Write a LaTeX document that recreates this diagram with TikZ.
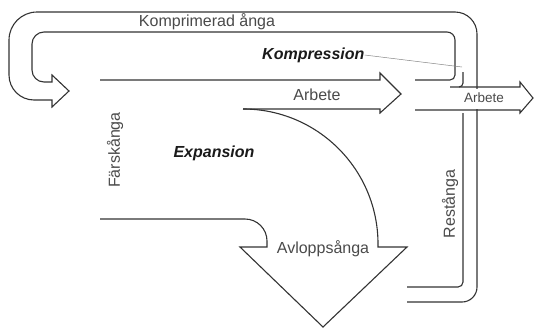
\documentclass[tikz,border=0pt]{standalone}
\usepackage{fontspec}
\setmainfont{Liberation Sans}
\definecolor{ln}{HTML}{333333}
\definecolor{tx}{HTML}{4A4A4A}
\definecolor{tb}{HTML}{1A1A1A}
\tikzset{
  flow/.style={draw=ln, line width=1.1pt, line join=miter},
  lbl/.style={text=tx, inner sep=0pt, font=\fontsize{16}{18}\selectfont},
  lblsmall/.style={text=tx, inner sep=0pt, font=\fontsize{13.5}{15}\selectfont},
  head/.style={text=tb, inner sep=0pt, font=\fontsize{16}{18}\selectfont\bfseries\itshape},
  leader/.style={draw=ln!60, line width=0.5pt}
}
\begin{document}
\begin{tikzpicture}[x=1pt,y=-1pt]
\useasboundingbox (0,0) rectangle (534,327);
% Komprimerad ånga channel (inner, head, outer)
\draw[flow] (415,80) -- (450,80) arc[start angle=90,end angle=0,radius=5] -- (455,40)
  arc[start angle=360,end angle=270,radius=8] -- (44,32)
  arc[start angle=270,end angle=180,radius=12] -- (32,70)
  arc[start angle=180,end angle=90,radius=12] -- (52,82)
  -- (52,75) -- (69,91) -- (52,107) -- (52,100) -- (34,100)
  arc[start angle=90,end angle=180,radius=25] -- (9,40)
  arc[start angle=180,end angle=270,radius=28] -- (455,12)
  arc[start angle=270,end angle=360,radius=22] -- (477,287)
  arc[start angle=0,end angle=90,radius=15] -- (407,302);
% Restånga inner line
\draw[flow] (463,113) -- (463,282) arc[start angle=0,end angle=90,radius=5] -- (407,287);
% small junction
\draw[flow] (463,72) -- (463,83) arc[start angle=0,end angle=90,radius=4];
% right Arbete arrow
\fill[white] (451,88.5) rectangle (519,108.5);
\draw[flow] (450,87) -- (520,87) -- (520,82) -- (533,98) -- (520,113) -- (520,110) -- (415,110);
% middle Arbete arrow
\draw[flow] (100,80) -- (380,80) -- (380,73) -- (401,94) -- (380,113) -- (380,109) -- (243,109);
% Avloppsånga arrow
\draw[flow] (243,109) arc[start angle=270,end angle=360,radius=135] -- (378,247) -- (407,247)
  -- (323,327) -- (240,247) -- (267,247) -- (267,241)
  arc[start angle=0,end angle=-90,radius=22] -- (100,219);
% labels
\node[lbl] (komp) at (207,22) {Komprimerad ånga};
\node[head, anchor=west] (kompr) at (262,55) {Kompression};
\coordinate (kpend) at (462,67);
\draw[leader] (kompr.east) -- (kpend);
\node[lbl] (arb1) at (317,95) {Arbete};
\node[lblsmall] (arb2) at (484,98) {Arbete};
\node[head] (exp) at (214,153) {Expansion};
\node[lbl, rotate=90] (fars) at (115,150) {Färskånga};
\node[lbl] (avl) at (323,249) {Avloppsånga};
\node[lbl, rotate=90] (rest) at (450,204) {Restånga};
\end{tikzpicture}
\end{document}
